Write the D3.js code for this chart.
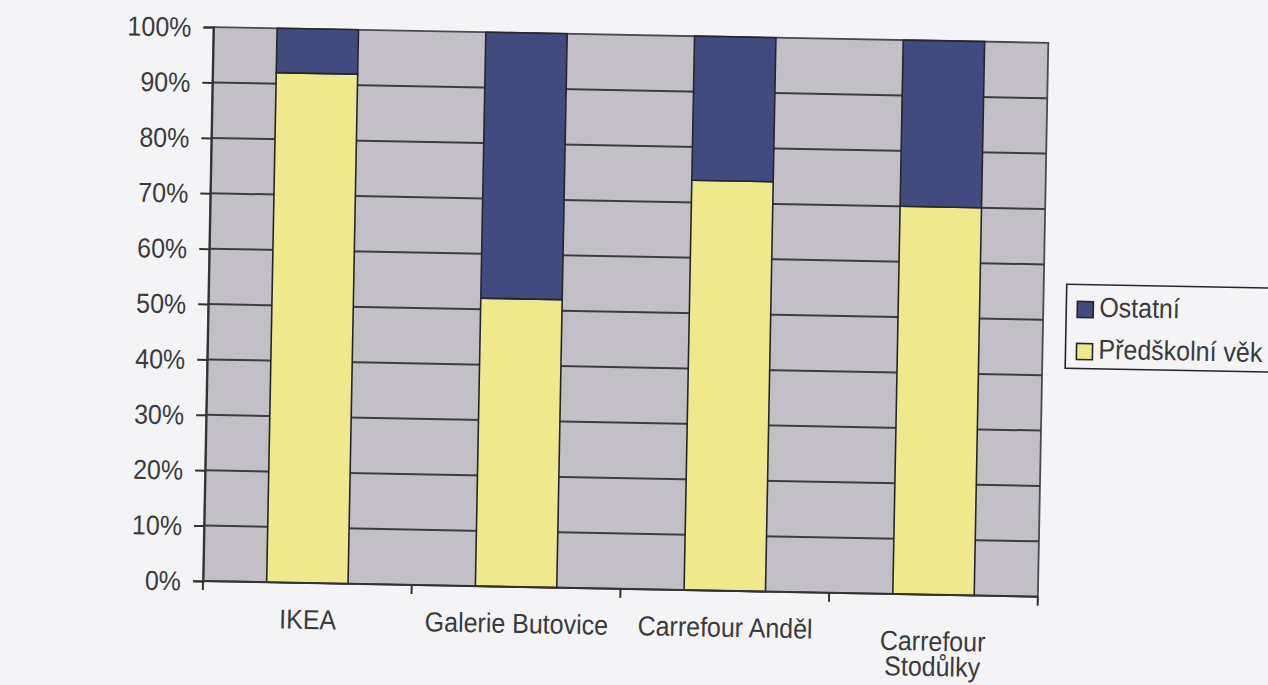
<!DOCTYPE html>
<html>
<head>
<meta charset="utf-8">
<script src="https://cdn.jsdelivr.net/npm/d3@7"></script>
<style>
  html, body { margin: 0; padding: 0; background: #f4f4f6; }
  svg { display: block; }
  text { font-family: "Liberation Sans", Arial, sans-serif; fill: #3a3a3c; }
</style>
</head>
<body>
<svg id="chart" width="1268" height="685"></svg>
<script>
// ---- data ----
const categories = ["IKEA", "Galerie Butovice", "Carrefour Anděl", "Carrefour Stodůlky"];
const categoryLabelLines = [["IKEA"], ["Galerie Butovice"], ["Carrefour Anděl"], ["Carrefour", "Stodůlky"]];
const predskolniVek = [92, 52, 74, 70];   // % share, "Předškolní věk"
const ostatni = [8, 48, 26, 30];          // % share, "Ostatní"
const seriesNames = ["Předškolní věk", "Ostatní"];
const legendOrder = ["Ostatní", "Předškolní věk"];
const yTickValues = [0, 10, 20, 30, 40, 50, 60, 70, 80, 90, 100];
const yTickLabels = ["0%", "10%", "20%", "30%", "40%", "50%", "60%", "70%", "80%", "90%", "100%"];

// ---- styling ----
const colors = { "Předškolní věk": "#efe98e", "Ostatní": "#414b80" };
const plotBg = "#c2c0c6";
const gridColor = "#3c3c40";

const svg = d3.select("#chart");
svg.append("rect").attr("width", 1268).attr("height", 685).attr("fill", "#f4f4f6");

const pLeft = 203, pRight = 1038, pTop = 27, pBottom = 581;
// the scanned chart is slightly tilted; reproduce the tilt
const g = svg.append("g").attr("transform", `rotate(1.08, ${pLeft}, ${pBottom})`);

const x = d3.scaleBand().domain(categories).range([pLeft, pRight]).paddingInner(0.61).paddingOuter(0.305);
const y = d3.scaleLinear().domain([0, 100]).range([pBottom, pTop]);

// plot area
g.append("rect")
  .attr("x", pLeft).attr("y", pTop)
  .attr("width", pRight - pLeft).attr("height", pBottom - pTop)
  .attr("fill", plotBg).attr("stroke", "#4a4a50").attr("stroke-width", 1.8);

// gridlines
g.append("g").selectAll("line")
  .data(yTickValues.filter(v => v > 0 && v < 100))
  .join("line")
  .attr("x1", pLeft).attr("x2", pRight)
  .attr("y1", d => y(d)).attr("y2", d => y(d))
  .attr("stroke", gridColor).attr("stroke-width", 2);

// stacked bars
const table = categories.map((c, i) => ({ cat: c, "Předškolní věk": predskolniVek[i], "Ostatní": ostatni[i] }));
const stacked = d3.stack().keys(seriesNames)(table);
g.append("g").selectAll("g")
  .data(stacked)
  .join("g")
  .attr("fill", d => colors[d.key])
  .selectAll("rect")
  .data(d => d)
  .join("rect")
  .attr("x", d => x(d.data.cat))
  .attr("width", x.bandwidth())
  .attr("y", d => y(d[1]))
  .attr("height", d => y(d[0]) - y(d[1]))
  .attr("stroke", "#26262a").attr("stroke-width", 1.6);

// y axis
const yAxis = g.append("g")
  .attr("transform", `translate(${pLeft},0)`)
  .call(d3.axisLeft(y).tickValues(yTickValues).tickSize(10).tickPadding(12)
    .tickFormat((d, i) => yTickLabels[i]));
yAxis.select(".domain").attr("stroke", "#333").attr("stroke-width", 2);
yAxis.selectAll(".tick line").attr("stroke", "#333").attr("stroke-width", 2);
yAxis.selectAll(".tick text")
  .attr("font-size", 25)
  .attr("fill", "#3a3a3c")
  .attr("font-family", "'Liberation Sans', Arial, sans-serif")
  .attr("dy", null)
  .attr("dominant-baseline", "central")
  .attr("transform", "scale(1,1.1)");

// x axis line and boundary ticks
g.append("line")
  .attr("x1", pLeft).attr("x2", pRight)
  .attr("y1", y(0)).attr("y2", y(0))
  .attr("stroke", "#333").attr("stroke-width", 2);
const boundaries = d3.range(categories.length + 1).map(i => x.range()[0] + i * x.step());
g.append("g").selectAll("line")
  .data(boundaries)
  .join("line")
  .attr("x1", d => d).attr("x2", d => d)
  .attr("y1", y(0)).attr("y2", y(0) + 9)
  .attr("stroke", "#333").attr("stroke-width", 2);

// category labels
const xl = g.append("g").selectAll("g")
  .data(categories)
  .join("g")
  .attr("transform", (d, i) => {
    const lines = categoryLabelLines[i];
    const cx = x(d) + x.bandwidth() / 2 + (lines.length > 1 ? 0 : 1);
    const by = lines.length > 1 ? y(0) + 56 : y(0) + 46;
    return `translate(${cx},${by}) scale(1,1.1)`;
  });
xl.append("text")
  .attr("text-anchor", "middle")
  .attr("font-size", 25)
  .selectAll("tspan")
  .data((d, i) => categoryLabelLines[i])
  .join("tspan")
  .attr("x", 0)
  .attr("dy", (d, j) => j === 0 ? 0 : 23)
  .text(d => d);

// legend
const lg = g.append("g").attr("transform", "translate(1061,268)");
lg.append("rect")
  .attr("width", 240).attr("height", 84)
  .attr("fill", "#f4f4f6").attr("stroke", "#26262a").attr("stroke-width", 1.6);
const li = lg.selectAll("g.item")
  .data(legendOrder)
  .join("g").attr("class", "item")
  .attr("transform", (d, i) => `translate(11,${17 + i * 42})`);
li.append("rect")
  .attr("width", 16).attr("height", 16)
  .attr("fill", d => colors[d]).attr("stroke", "#26262a").attr("stroke-width", 1.6);
li.append("text")
  .attr("transform", "translate(22,15) scale(1,1.1)")
  .attr("font-size", 25)
  .text(d => d);
</script>
</body>
</html>
